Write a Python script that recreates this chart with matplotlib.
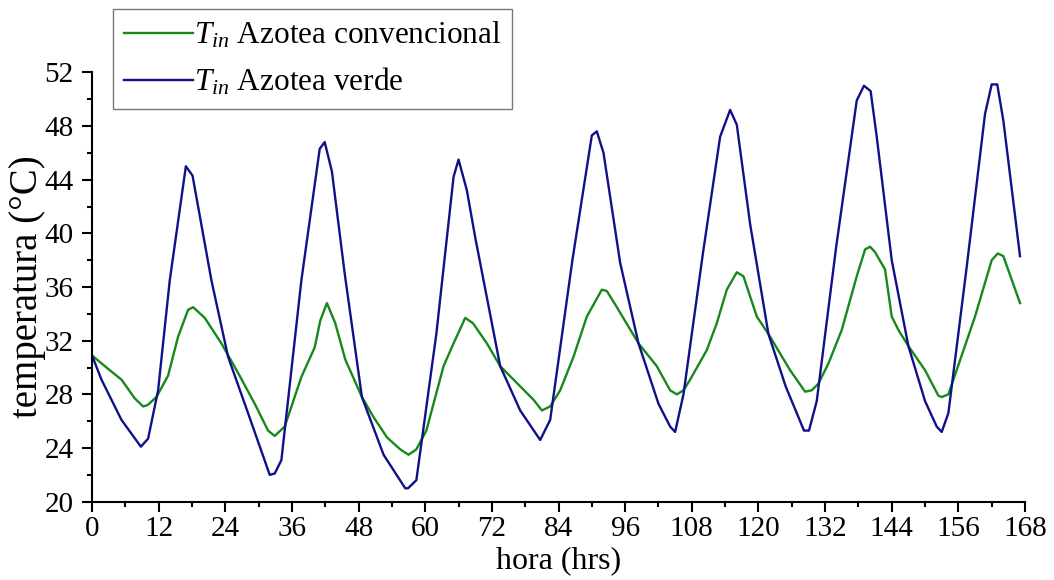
import matplotlib
matplotlib.use('Agg')
import matplotlib.pyplot as plt
from matplotlib.ticker import MultipleLocator

# datos (hora, temperatura)
hora_conv = [0, 2.9, 5.3, 7.7, 9.2, 10.0, 11.6, 13.7, 15.5, 17.3, 18.2, 20.3, 23.3,
             26.3, 29.3, 31.7, 32.9, 34.7, 37.7, 40.1, 41.1, 42.3, 43.8, 45.6, 48.6,
             50.7, 53.1, 55.5, 57.0, 58.4, 60.2, 63.3, 65.1, 67.2, 68.6, 71.1, 73.5,
             77.1, 79.5, 81.0, 82.5, 84.3, 86.7, 89.1, 91.8, 92.7, 94.5, 98.4, 101.7,
             104.1, 105.3, 106.5, 107.7, 110.7, 112.5, 114.3, 116.1, 117.3, 119.7,
             121.8, 125.7, 128.4, 129.6, 130.8, 132.6, 135.0, 137.7, 139.2, 140.1,
             141.0, 142.8, 144.0, 145.2, 147.0, 150.0, 152.4, 153.0, 154.2, 159.0,
             162.0, 163.1, 164.1, 167.1]
temp_conv = [30.9, 29.9, 29.1, 27.7, 27.1, 27.2, 27.8, 29.4, 32.3, 34.3, 34.5, 33.7,
             31.8, 29.6, 27.3, 25.3, 24.9, 25.6, 29.3, 31.5, 33.5, 34.8, 33.3, 30.6,
             27.8, 26.3, 24.8, 23.9, 23.5, 23.9, 25.3, 30.1, 31.8, 33.7, 33.3, 31.8,
             30.1, 28.6, 27.6, 26.8, 27.1, 28.3, 30.8, 33.8, 35.8, 35.7, 34.5, 31.8,
             30.1, 28.3, 28.0, 28.3, 29.1, 31.3, 33.3, 35.8, 37.1, 36.8, 33.8, 32.5,
             29.8, 28.2, 28.3, 28.8, 30.3, 32.8, 36.8, 38.8, 39.0, 38.6, 37.3, 33.8,
             32.8, 31.6, 29.8, 27.9, 27.8, 28.0, 33.8, 38.0, 38.5, 38.3, 34.8]

hora_verde = [0, 1.7, 5.3, 8.8, 10.1, 11.9, 14.0, 16.9, 18.1, 21.5, 24.5, 28.1, 32.0,
              32.9, 34.1, 37.7, 41.0, 41.9, 43.2, 45.5, 48.6, 52.5, 56.4, 56.9, 58.4,
              62, 65.1, 66.0, 67.5, 69.0, 73.5, 77.1, 80.7, 82.5, 86.5, 90.0, 90.9,
              92.1, 95.1, 98.4, 102, 104.1, 105.0, 106.5, 110, 113.1, 114.9, 116.1,
              118.5, 121.8, 124.9, 128.2, 129.1, 130.5, 134, 137.7, 139.0, 140.2,
              141.3, 144, 147.0, 150, 152.1, 153.0, 154.2, 157.5, 160.8, 162.0, 163.0,
              164.1, 167.1]
temp_verde = [30.9, 29.1, 26.1, 24.1, 24.7, 28.3, 36.5, 45.0, 44.3, 36.5, 30.8, 26.6,
              22.0, 22.1, 23.1, 36.5, 46.3, 46.8, 44.6, 37.0, 27.8, 23.5, 21.0, 21.0,
              21.6, 32.5, 44.2, 45.5, 43.2, 39.7, 30.1, 26.8, 24.6, 26.1, 38.0, 47.3,
              47.6, 46.0, 37.8, 31.8, 27.3, 25.6, 25.2, 28.0, 38.5, 47.2, 49.2, 48.1,
              40.7, 32.5, 28.6, 25.3, 25.3, 27.5, 39.0, 49.9, 51.0, 50.6, 47.2, 38.0,
              31.6, 27.5, 25.6, 25.2, 26.6, 37.5, 48.9, 51.1, 51.1, 48.4, 38.3]

plt.rcParams['font.family'] = ['Liberation Serif', 'DejaVu Serif']
plt.rcParams['mathtext.fontset'] = 'custom'
plt.rcParams['mathtext.rm'] = 'Liberation Serif'
plt.rcParams['mathtext.it'] = 'Liberation Serif:italic'

fig = plt.figure(figsize=(10.54, 5.8), dpi=100)
ax = fig.add_axes([0.0873, 0.135, 0.8852, 0.7403])

ax.plot(hora_conv, temp_conv, color='#16891a', lw=1.7, label=r'$T_{in}$ Azotea convencional')
ax.plot(hora_verde, temp_verde, color='#10108a', lw=1.7, label=r'$T_{in}$ Azotea verde')

ax.set_xlim(0, 168)
ax.set_ylim(20, 52)
ax.xaxis.set_major_locator(MultipleLocator(12))
ax.xaxis.set_minor_locator(MultipleLocator(6))
ax.yaxis.set_major_locator(MultipleLocator(4))
ax.yaxis.set_minor_locator(MultipleLocator(2))

for s in ['top', 'right']:
    ax.spines[s].set_visible(False)
for s in ['left', 'bottom']:
    ax.spines[s].set_linewidth(1.5)

ax.tick_params(which='major', direction='out', length=7.2, width=1.5, labelsize=21)
ax.tick_params(axis='x', which='major', pad=3)
ax.tick_params(axis='y', which='major', pad=6)
ax.tick_params(which='minor', direction='out', length=3.6, width=1.5)

ax.set_xlabel('hora (hrs)', fontsize=23)
ax.xaxis.set_label_coords(0.5, -0.103)
ax.set_ylabel('temperatura (°C)', fontsize=28, labelpad=-1)

leg = ax.legend(loc='upper left', bbox_to_anchor=(113 / 1054, 1 - 9 / 580),
                bbox_transform=fig.transFigure, fontsize=22.5, frameon=True,
                fancybox=False, handlelength=2.2, handletextpad=0.05,
                borderpad=0.35, labelspacing=0.5, borderaxespad=0)
leg.get_frame().set_edgecolor('#555555')
leg.get_frame().set_linewidth(1.0)

fig.savefig('out.png', dpi=100)
